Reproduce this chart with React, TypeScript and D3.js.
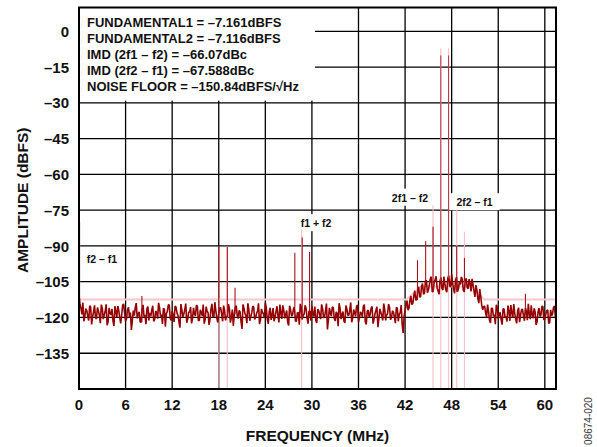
import React, { useEffect, useRef } from 'react';
import * as d3 from 'd3';

// axis ticks
const xTicks = [0, 6, 12, 18, 24, 30, 36, 42, 48, 54, 60];
const yTicks = [0, -15, -30, -45, -60, -75, -90, -105, -120, -135];

// FFT noise trace, read as two interleaved sets of bins, 0.25 MHz apart
const noiseStep = 0.25;
const noiseDb = [
  -110.5, -116.2, -113.8, -119.5, -117.0, -121.3, -115.6, -119.8, -114.9, -120.6,
  -117.3, -122.4, -116.1, -119.0, -114.5, -121.8, -118.2, -116.4, -123.6, -117.5,
  -115.2, -120.1, -118.7, -114.3, -121.5, -116.8, -119.9, -125.2, -117.1, -115.8,
  -120.4, -117.6, -122.0, -114.7, -118.9, -116.3, -121.2, -119.4, -115.1, -120.8,
  -117.9, -113.9, -119.6, -122.7, -116.6, -118.4, -114.8, -120.3, -117.2, -121.9,
  -115.7, -119.1, -124.3, -116.9, -118.6, -114.2, -120.7, -117.8, -122.5, -116.0,
  -119.3, -115.4, -121.1, -118.0, -114.6, -120.9, -117.4, -123.1, -116.5, -119.7,
  -113.6, -120.2, -118.3, -115.9, -121.6, -117.0, -119.5, -114.4, -122.2, -116.7,
  -118.8, -115.0, -120.5, -117.7, -124.8, -116.2, -119.2, -114.1, -121.4, -118.1,
  -115.5, -120.0, -117.3, -122.8, -116.4, -118.5, -113.8, -120.6, -117.6, -121.0,
  -116.1, -119.8, -115.3, -122.1, -118.2, -114.9, -120.4, -117.1, -123.4, -116.8,
  -119.0, -115.6, -121.7, -117.9, -114.3, -120.8, -118.6, -116.2, -122.6, -117.4,
  -115.1, -119.6, -121.3, -116.6, -118.9, -114.5, -120.2, -117.2, -125.0, -116.0,
  -119.4, -115.8, -121.5, -118.4, -114.0, -120.7, -117.5, -122.3, -116.3, -119.1,
  -113.7, -120.3, -118.0, -115.2, -121.9, -117.7, -119.7, -114.6, -122.9, -116.9,
  -118.7, -115.4, -120.9, -117.0, -124.1, -116.4, -119.3, -114.2, -121.2, -118.3,
  -115.7, -120.1, -117.8, -122.4, -116.1, -118.6, -114.8, -126.5,
  // 42 MHz .. 52 MHz, raised noise around the tones
  -117.0, -112.9, -116.2, -111.0, -114.1, -108.8, -112.6, -107.1, -111.2, -105.8,
  -109.9, -104.4, -108.6, -103.8, -109.3, -105.2, -102.7, -108.9, -104.6, -107.8,
  -102.9, -108.4, -103.6, -106.9, -101.9, -108.1, -104.2, -109.2, -104.9, -103.0,
  -108.6, -104.7, -107.5, -103.9, -109.1, -106.1, -111.4, -108.4, -114.0, -111.3,
  -116.8,
  -115.3, -119.9, -117.4, -122.3, -116.2, -118.8, -114.7, -120.6, -117.9, -123.0,
  -116.5, -119.5, -115.0, -121.4, -118.1, -114.4, -120.8, -117.3, -122.0, -116.7,
  -119.2, -115.9, -121.1, -118.5, -114.9, -120.3, -117.6, -121.8, -116.1, -119.0,
  -115.5, -120.7, -117.2, -122.5, -116.8, -118.4, -115.2, -119.6,
];
// the in-between bins, starting at 0.125 MHz
const noiseDbMid = [
  -114.2, -118.7, -121.6, -116.3, -119.4, -115.1, -122.9, -117.6, -120.2, -115.8,
  -119.1, -114.6, -120.7, -117.4, -123.3, -116.0, -118.9, -121.4, -115.3, -119.8,
  -117.1, -122.5, -114.9, -118.3, -120.6, -115.7, -117.9, -121.0, -119.2, -114.0,
  -118.5, -121.9, -116.5, -119.6, -122.8, -115.4, -118.1, -116.9, -121.7, -117.3,
  -120.5, -115.9, -118.8, -116.2, -123.9, -117.5, -114.7, -121.3, -119.0, -115.2,
  -118.2, -121.8, -114.4, -119.9, -116.7, -122.2, -117.7, -115.6, -120.4, -118.6,
  -114.8, -121.5, -116.8, -119.3, -122.6, -115.5, -118.0, -120.9, -114.3, -119.5,
  -117.2, -122.1, -116.1, -118.7, -115.0, -121.2, -119.7, -116.4, -120.0, -123.5,
  -115.8, -119.0, -117.0, -121.9, -114.5, -118.4, -122.4, -116.6, -119.6, -115.3,
  -120.8, -118.3, -114.1, -121.1, -117.8, -120.3, -116.0, -122.7, -115.9, -118.9,
  -121.6, -117.5, -119.4, -114.6, -120.6, -116.9, -118.6, -122.0, -115.1, -119.3,
  -116.4, -121.4, -118.0, -123.0, -115.7, -119.2, -114.9, -120.2, -117.3, -121.3,
  -118.5, -115.4, -122.3, -117.1, -120.7, -116.3, -119.8, -114.2, -121.0, -118.1,
  -115.6, -120.4, -117.6, -123.7, -116.2, -118.8, -121.5, -115.0, -119.1, -117.0,
  -122.0, -116.7, -119.5, -114.8, -120.1, -118.2, -115.3, -121.8, -117.4, -119.9,
  -116.1, -122.6, -118.4, -115.5, -120.5, -117.8, -121.2, -116.5, -119.0, -114.4,
  -120.9, -117.2, -119.7, -115.8, -121.6, -118.0, -122.9, -119.3,
  -115.1, -116.9, -112.8, -114.6, -110.9, -112.7, -108.6, -111.5, -106.9, -110.2,
  -104.7, -109.6, -106.3, -102.9, -108.9, -104.1, -107.7, -110.3, -103.2, -108.5,
  -105.9, -109.4, -102.4, -107.1, -105.5, -109.9, -103.1, -108.0, -106.2, -104.0,
  -109.3, -103.6, -107.9, -105.7, -103.8, -109.0, -106.4, -112.1, -108.1, -114.9,
  -115.4,
  -118.1, -114.6, -121.2, -116.0, -119.4, -122.8, -115.6, -118.7, -120.9, -116.4,
  -119.8, -121.7, -117.1, -114.8, -120.2, -118.3, -122.5, -115.9, -119.1, -116.6,
  -121.4, -117.5, -114.3, -120.7, -118.9, -116.2, -123.1, -117.7, -119.6, -115.2,
  -121.0, -118.6, -116.8, -122.2, -119.3, -115.7, -120.4, -117.9,
];

// spurs of the dark trace: [MHz, dBFS]
const darkSpurs: [number, number][] = [
  [8.1, -111], [18.0, -90.3], [19.1, -90.3], [20.1, -107.5],
  [27.8, -92.9], [28.75, -86.5], [29.7, -92.5],
  [43.6, -96], [44.65, -88], [45.6, -82], [46.6, -10.1], [47.6, -10.1],
  [48.65, -90], [49.65, -95], [57.5, -110],
];

// light trace: flat averaged floor plus tones reaching the bottom of the plot
const lightFloor: [number, number][] = [
  [0, -112.5], [42.2, -112.5], [44, -107], [50.6, -107], [52.2, -112.5], [61.44, -112.5],
];
const lightTones: [number, number][] = [
  [18.0, -90.3], [19.1, -90.3], [28.67, -83], [45.6, -73],
  [46.6, -7.161], [47.6, -7.116], [48.65, -74.7], [49.65, -84],
];
const lightDc: [number, number] = [0.08, -80];

const summary = [
  'FUNDAMENTAL1 = \u20137.161dBFS',
  'FUNDAMENTAL2 = \u20137.116dBFS',
  'IMD (2f1 \u2013 f2) = \u201366.07dBc',
  'IMD (2f2 \u2013 f1) = \u201367.588dBc',
  'NOISE FLOOR = \u2013150.84dBFS/\u221AHz',
];

// product labels centred at [MHz, dBFS]
const productLabels: { text: string; f: number; db: number }[] = [
  { text: 'f2 \u2013 f1', f: 2.96, db: -95.7 },
  { text: 'f1 + f2', f: 30.53, db: -80.6 },
  { text: '2f1 \u2013 f2', f: 42.63, db: -69.9 },
  { text: '2f2 \u2013 f1', f: 50.94, db: -71.8 },
];

const FONT = '"Liberation Sans", Arial, Helvetica, sans-serif';
const DARK = '#960000';
const LIGHT = '#f6b8c0';

export default function App() {
  const svgRef = useRef<SVGSVGElement>(null);

  useEffect(() => {
    if (!svgRef.current) return;
    const svg = d3.select(svgRef.current);
    svg.selectAll('*').remove();

    const width = 597;
    const height = 447;
    const margin = { top: 7.5, right: 41, bottom: 58, left: 79 };
    const left = margin.left;
    const right = width - margin.right;
    const top = margin.top;
    const bottom = height - margin.bottom;

    const x = d3.scaleLinear().domain([0, 61.44]).range([left, right]);
    const y = d3.scaleLinear().domain([-150, 10]).range([bottom, top]);

    svg.attr('width', width).attr('height', height);

    svg.append('defs').append('clipPath').attr('id', 'plot-clip')
      .append('rect')
      .attr('x', left).attr('y', top)
      .attr('width', right - left).attr('height', bottom - top);

    // grid
    const grid = svg.append('g').attr('stroke', '#000').attr('stroke-width', 1.3);
    xTicks.forEach(t => {
      grid.append('line')
        .attr('x1', x(t)).attr('x2', x(t))
        .attr('y1', top).attr('y2', bottom);
    });
    yTicks.forEach(t => {
      grid.append('line')
        .attr('x1', left).attr('x2', right)
        .attr('y1', y(t)).attr('y2', y(t));
    });

    // white boxes behind the product labels
    const labelBoxes = svg.append('g');
    const labelTexts = svg.append('g');
    productLabels.forEach(l => {
      const txt = labelTexts.append('text')
        .attr('x', x(l.f))
        .attr('y', y(l.db))
        .attr('dy', '0.35em')
        .attr('text-anchor', 'middle')
        .style('font-family', FONT)
        .style('font-weight', 'bold')
        .style('font-size', '10.5px')
        .style('fill', '#111')
        .text(l.text);
      const bb = (txt.node() as SVGTextElement).getBBox();
      labelBoxes.append('rect')
        .attr('x', bb.x - 7).attr('y', bb.y - 3)
        .attr('width', bb.width + 14).attr('height', bb.height + 5)
        .attr('fill', '#fff');
    });

    // summary box top left, it hides the grid up to just past the 30 MHz line
    const summaryBox = svg.append('rect').attr('fill', '#fff');
    const summaryText = svg.append('g');
    summary.forEach((s, i) => {
      summaryText.append('text')
        .attr('x', left + 8)
        .attr('y', 27 + i * 15.9)
        .style('font-family', FONT)
        .style('font-weight', 'bold')
        .style('font-size', '13px')
        .style('fill', '#111')
        .text(s);
    });
    const sb = (summaryText.node() as SVGGElement).getBBox();
    const boxRight = Math.max(sb.x + sb.width + 14, x(30) + 3);
    summaryBox
      .attr('x', left).attr('y', top)
      .attr('width', boxRight - left)
      .attr('height', sb.y + sb.height + 7 - top);

    const plot = svg.append('g').attr('clip-path', 'url(#plot-clip)');

    // light trace
    plot.append('path')
      .datum(lightFloor)
      .attr('d', d3.line<[number, number]>().x(d => x(d[0])).y(d => y(d[1])))
      .attr('fill', 'none')
      .attr('stroke', '#f8c8cc')
      .attr('stroke-width', 2);
    lightTones.forEach(([f, db]) => {
      plot.append('line')
        .attr('x1', x(f)).attr('x2', x(f))
        .attr('y1', y(db)).attr('y2', bottom)
        .attr('stroke', LIGHT)
        .attr('stroke-opacity', 0.85)
        .attr('stroke-width', 1.2);
    });
    plot.append('line')
      .attr('x1', x(lightDc[0])).attr('x2', x(lightDc[0]))
      .attr('y1', y(lightDc[1])).attr('y2', y(lightFloor[0][1]))
      .attr('stroke', '#e08890')
      .attr('stroke-width', 1.2);

    // dark trace: both sets of bins merged by frequency
    const bins: [number, number][] = [];
    noiseDb.forEach((d, i) => {
      bins.push([i * noiseStep, d]);
      if (i < noiseDbMid.length) bins.push([i * noiseStep + noiseStep / 2, noiseDbMid[i]]);
    });
    plot.append('path')
      .datum(bins)
      .attr('d', d3.line<[number, number]>().x(d => x(d[0])).y(d => y(d[1])))
      .attr('fill', 'none')
      .attr('stroke', DARK)
      .attr('stroke-width', 1.6)
      .attr('stroke-linejoin', 'bevel');

    darkSpurs.forEach(([f, db]) => {
      const base = noiseDb[Math.round(f / noiseStep)];
      plot.append('line')
        .attr('x1', x(f)).attr('x2', x(f))
        .attr('y1', y(db)).attr('y2', y(base))
        .attr('stroke', db > -60 ? '#c03a48' : '#a8101c')
        .attr('stroke-width', 1.1);
    });

    labelTexts.raise();

    // plot frame
    svg.append('rect')
      .attr('x', left).attr('y', top)
      .attr('width', right - left).attr('height', bottom - top)
      .attr('fill', 'none')
      .attr('stroke', '#000')
      .attr('stroke-width', 2);

    // tick labels
    const tickStyle = (sel: d3.Selection<SVGTextElement, unknown, null, undefined>) =>
      sel.style('font-family', FONT)
        .style('font-weight', 'bold')
        .style('font-size', '15px')
        .style('fill', '#111');

    yTicks.forEach(t => {
      svg.append('text')
        .attr('x', left - 10)
        .attr('y', y(t) + 5.6)
        .attr('text-anchor', 'end')
        .call(tickStyle)
        .text(t < 0 ? `\u2013${-t}` : `${t}`);
    });
    xTicks.forEach(t => {
      svg.append('text')
        .attr('x', x(t))
        .attr('y', bottom + 21)
        .attr('text-anchor', 'middle')
        .call(tickStyle)
        .text(`${t}`);
    });

    // axis titles
    svg.append('text')
      .attr('x', (left + right) / 2)
      .attr('y', 440.5)
      .attr('text-anchor', 'middle')
      .style('font-family', FONT)
      .style('font-weight', 'bold')
      .style('font-size', '15.5px')
      .style('fill', '#111')
      .text('FREQUENCY (MHz)');

    svg.append('text')
      .attr('transform', `translate(27.5, ${(top + bottom) / 2 + 2}) rotate(-90)`)
      .attr('text-anchor', 'middle')
      .style('font-family', FONT)
      .style('font-weight', 'bold')
      .style('font-size', '15.5px')
      .style('fill', '#111')
      .text('AMPLITUDE (dBFS)');

    svg.append('text')
      .attr('transform', 'translate(591.5, 421) rotate(-90)')
      .attr('text-anchor', 'middle')
      .style('font-family', FONT)
      .style('font-size', '10px')
      .style('fill', '#333')
      .text('08674-020');
  }, []);

  return (
    <div style={{ position: 'absolute', left: 0, top: 0, background: '#fff' }}>
      <svg ref={svgRef} style={{ display: 'block' }}></svg>
    </div>
  );
}
